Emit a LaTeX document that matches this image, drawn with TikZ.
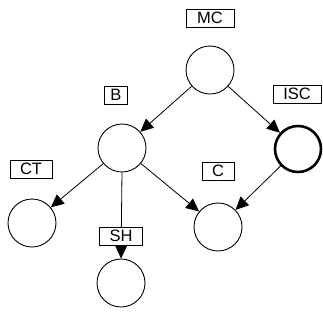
\documentclass[tikz,border=0pt]{standalone}
\usepackage{fontspec}
\setmainfont{Liberation Sans}
\usetikzlibrary{arrows.meta}
\begin{document}
\begin{tikzpicture}[x=1pt,y=-1pt,
  state/.style={circle,draw,line width=0.9pt,minimum size=48pt,inner sep=0pt},
  observed/.style={state,line width=2.6pt,minimum size=46pt},
  tag/.style={draw,fill=white,line width=0.8pt,minimum height=18pt,inner sep=1pt,
    font=\fontsize{16.5}{16.5}\selectfont},
  link/.style={line width=0.8pt,-{Triangle[length=13pt,width=12pt]}}]
\useasboundingbox (0,0) rectangle (323,322);
% nodes of the network
\node[state] (mc) at (210,70) {};
\node[state] (b) at (122,148) {};
\node[observed] (isc) at (298,149) {};
\node[state] (ct) at (32,223) {};
\node[state] (c) at (218,227) {};
\node[state] (sh) at (121,283) {};
% directed links
\draw[link] (mc) -- (b);
\draw[link] (mc) -- (isc);
\draw[link] (b) -- (ct);
\draw[link] (b) -- (c);
\draw[link] (isc) -- (c);
\draw[link] (b.south) -- (sh.north);
% labels
\node[tag,minimum width=48pt] (lmc) at (210,18) {MC};
\node[tag,minimum width=23pt] (lb) at (116,95) {B};
\node[tag,minimum width=48pt] (lisc) at (297,94) {ISC};
\node[tag,minimum width=42pt] (lct) at (31,169) {CT};
\node[tag,minimum width=32pt] (lc) at (218,171) {C};
\node[tag,minimum width=43pt] (lsh) at (121,236) {SH};
\end{tikzpicture}
\end{document}
